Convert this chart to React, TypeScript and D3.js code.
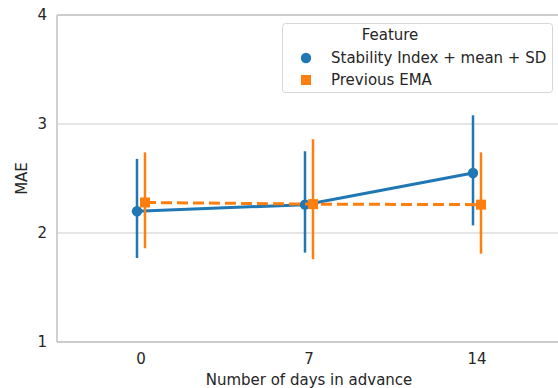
import * as d3 from 'd3';

const categories = ['0', '7', '14'];
const seriesNames = ['Stability Index + mean + SD', 'Previous EMA'];
const stabilityMean = [2.2, 2.26, 2.55];
const stabilityLow = [1.77, 1.82, 2.07];
const stabilityHigh = [2.68, 2.75, 3.08];
const emaMean = [2.28, 2.265, 2.26];
const emaLow = [1.86, 1.76, 1.81];
const emaHigh = [2.74, 2.86, 2.74];
const yTicks = [1, 2, 3, 4];

const W = 558;
const H = 388;
const margin = { left: 57, top: 15, right: -3, bottom: 46 };
const font = 'DejaVu Sans, sans-serif';
const ink = '#262626';
const blue = '#1f77b4';
const orange = '#ff7f0e';
const fs = 15;

export default function App() {
  const x = d3
    .scalePoint()
    .domain(categories)
    .range([margin.left, W - margin.right])
    .padding(0.5);
  const y = d3.scaleLinear().domain([1, 4]).range([H - margin.bottom, margin.top]);
  const dodge = 4;

  const series = [
    { name: seriesNames[0], mean: stabilityMean, low: stabilityLow, high: stabilityHigh, color: blue, off: -dodge, dash: null, shape: 'circle' },
    { name: seriesNames[1], mean: emaMean, low: emaLow, high: emaHigh, color: orange, off: dodge, dash: '11 5', shape: 'square' },
  ];

  const line = d3
    .line<number>()
    .x((_, i) => (x(categories[i]) as number))
    .y((v) => y(v));

  const x0 = margin.left;
  const yb = H - margin.bottom;
  const yt = margin.top;

  return (
    <div style={{ position: 'absolute', left: 0, top: 0, width: W, height: H, overflow: 'hidden' }}>
      <svg width={W} height={H} style={{ display: 'block' }} fontFamily={font}>
        <rect width={W} height={H} fill="#fff" />
        {yTicks.map((t) => (
          <g key={t}>
            <line x1={x0} x2={W} y1={y(t)} y2={y(t)} stroke="#cccccc" strokeWidth={t === 1 || t === 4 ? 1.8 : 1} />
            <text x={x0 - 10} y={y(t)} dy="0.35em" textAnchor="end" fontSize={fs} fill={ink}>
              {t}
            </text>
          </g>
        ))}
        <line x1={x0} x2={x0} y1={yt} y2={yb} stroke="#cccccc" strokeWidth={1.8} />
        {categories.map((c) => (
          <text key={c} x={x(c) as number} y={yb + 22} textAnchor="middle" fontSize={fs} fill={ink}>
            {c}
          </text>
        ))}
        <text x={(x0 + 561) / 2} y={H - 3} textAnchor="middle" fontSize={fs} fill={ink}>
          Number of days in advance
        </text>
        <text transform={`translate(27,${(yt + yb) / 2}) rotate(-90)`} textAnchor="middle" fontSize={fs} fill={ink}>
          MAE
        </text>

        {series.map((s) => (
          <g key={s.name} transform={`translate(${s.off},0)`}>
            {categories.map((c, i) => (
              <line
                key={c}
                x1={x(c) as number}
                x2={x(c) as number}
                y1={y(s.low[i])}
                y2={y(s.high[i])}
                stroke={s.color}
                strokeWidth={2.5}
              />
            ))}
            <path d={line(s.mean) || ''} fill="none" stroke={s.color} strokeWidth={3} strokeDasharray={s.dash || undefined} />
            {categories.map((c, i) =>
              s.shape === 'circle' ? (
                <circle key={c} cx={x(c) as number} cy={y(s.mean[i])} r={5.2} fill={s.color} />
              ) : (
                <rect key={c} x={(x(c) as number) - 5} y={y(s.mean[i]) - 5} width={10} height={10} fill={s.color} />
              )
            )}
          </g>
        ))}

        <g>
          <rect x={282.5} y={23.5} width={270} height={69} rx={3} fill="#fff" fillOpacity={0.8} stroke="#d6d6d6" strokeWidth={1} />
          <text x={390} y={40} textAnchor="middle" fontSize={fs} fill={ink}>
            Feature
          </text>
          {series.map((s, i) => {
            const ly = 58 + i * 22;
            return (
              <g key={s.name}>
                {s.shape === 'circle' ? (
                  <circle cx={306} cy={ly} r={5.2} fill={s.color} />
                ) : (
                  <rect x={301} y={ly - 5} width={10} height={10} fill={s.color} />
                )}
                <text x={331} y={ly} dy="0.35em" fontSize={fs} fill={ink}>
                  {s.name}
                </text>
              </g>
            );
          })}
        </g>
      </svg>
    </div>
  );
}
